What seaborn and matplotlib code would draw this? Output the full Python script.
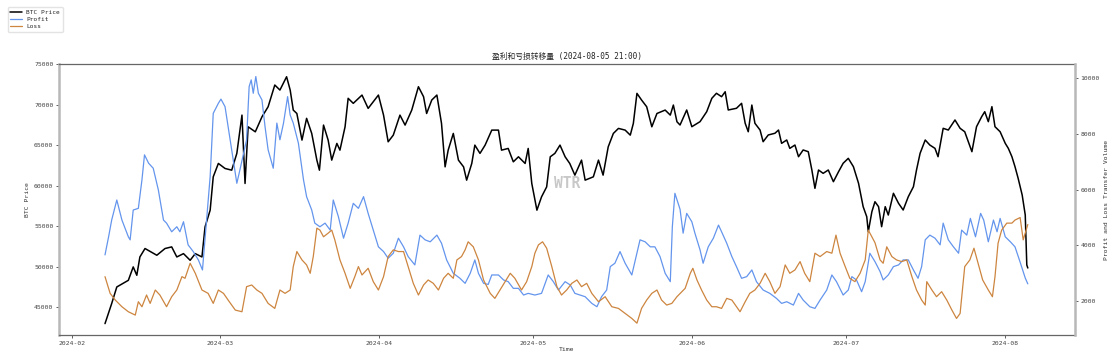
import numpy as np
import pandas as pd
import seaborn as sns
import matplotlib.pyplot as plt
import matplotlib.dates as mdates

# days counted from 2024-02-01
btc_days = [6.5, 7.8, 8.8, 11.05, 12.0, 12.7, 13.3, 14.3, 16.6, 18.2, 19.5, 20.5, 21.8, 23.1, 24.1,
            25.4, 26.0, 27.0, 27.6, 28.6, 29.9, 31.2, 32.2, 33.2, 33.8, 34.4, 35.8, 37.1, 38.3, 39.6,
            40.6, 41.9, 42.6, 43.2, 43.9, 44.9, 45.8, 46.8, 47.8, 48.3, 49.1, 50.0, 50.7, 51.7, 52.3,
            53.3, 53.9, 54.9, 56.6, 57.8, 58.8, 59.8, 60.8, 61.7, 62.7, 64.0, 65.0, 66.3, 67.6, 68.6,
            69.2, 70.2, 71.2, 72.1, 72.8, 73.4, 74.4, 75.4, 76.4, 77.0, 78.0, 78.6, 79.6, 80.6, 81.9,
            83.2, 83.8, 85.1, 86.1, 87.1, 88.4, 89.0, 89.7, 90.7, 91.6, 92.6, 93.3, 94.2, 95.2, 96.2,
            97.1, 98.1, 99.4, 100.1, 101.7, 102.7, 103.6, 104.6, 105.6, 106.6, 107.9, 108.9, 109.5,
            110.2, 111.1, 112.1, 113.1, 114.1, 115.7, 116.7, 117.3, 118.0, 118.6, 119.9, 120.9, 122.5,
            123.8, 124.8, 125.7, 126.7, 127.4, 128.0, 129.6, 130.6, 131.3, 131.9, 132.6, 133.2, 134.2,
            134.8, 135.8, 137.1, 137.8, 138.4, 139.4, 140.0, 141.0, 141.7, 142.6, 143.6, 144.3, 144.9,
            145.6, 146.5, 147.5, 148.5, 149.5, 150.4, 151.4, 152.4, 153.4, 154.3, 155.0, 155.3, 156.0,
            156.6, 157.3, 157.9, 158.6, 159.2, 160.2, 161.2, 162.1, 163.1, 164.1, 164.7, 165.4, 166.4,
            167.3, 168.3, 168.9, 169.9, 170.9, 172.2, 173.2, 174.1, 175.5, 176.4, 177.4, 178.0, 178.7,
            179.4, 180.0, 181.0, 182.0, 182.6, 183.3, 183.9, 184.5, 185.3, 185.9, 186.2, 186.4]
btc_price = [42990, 45460, 47510, 48330, 49980, 48950, 51210, 52250, 51420, 52250, 52450, 51210, 51620,
             50800, 51620, 51210, 54910, 56980, 61090, 62740, 62120, 61910, 63980, 68700, 60270, 67260,
             66640, 68490, 69730, 72410, 71790, 73430, 71790, 69320, 68900, 65620, 68300, 66440, 63150,
             61910, 67470, 65620, 63150, 65210, 64380, 67260, 70770, 70150, 71170, 69530, 70350, 71170,
             68700, 65410, 66230, 68700, 67470, 69320, 72200, 70970, 68900, 70560, 71170, 67680, 62320,
             64380, 66440, 63150, 62320, 60680, 62740, 65000, 63980, 65000, 66850, 66850, 64380, 64590,
             62940, 63560, 62740, 64590, 60270, 56980, 58620, 59850, 63560, 63980, 65000, 63560, 62740,
             61300, 63150, 60680, 61090, 63150, 61300, 64790, 66440, 67060, 66850, 66230, 67680, 71380,
             70560, 69730, 67260, 68900, 69320, 68700, 69940, 67880, 67480, 69330, 67270, 67890, 69120,
             70770, 71390, 70970, 71580, 69330, 69540, 70150, 67690, 66650, 69940, 67690, 66860, 65420,
             66250, 66460, 66860, 65220, 65630, 64600, 65010, 63570, 64400, 64190, 61930, 59670, 61930,
             61520, 61930, 60490, 61720, 62760, 63370, 62340, 60290, 57410, 56170, 54320, 56790, 58020,
             57410, 54940, 57410, 56380, 59060, 57820, 57000, 58640, 59870, 61930, 63990, 65630, 65010,
             64600, 63570, 67070, 66860, 68100, 67070, 66650, 64190, 67270, 68500, 69120, 67890, 69740,
             67270, 66650, 65220, 64600, 63570, 62340, 60940, 58850, 56380, 50220, 49850]

profit_days = [6.5, 7.2, 7.8, 8.8, 9.8, 11.05, 11.4, 12.0, 13.0, 13.7, 14.2, 15.0, 15.9, 16.9, 17.9,
               18.5, 19.5, 20.5, 21.1, 21.8, 22.7, 23.7, 24.7, 25.5, 26.3, 27.0, 27.6, 28.6, 29.1, 29.9,
               30.5, 31.5, 32.2, 32.8, 34.1, 34.6, 35.0, 35.4, 35.9, 36.4, 37.1, 37.7, 38.3, 39.3, 40.0,
               40.6, 41.3, 42.1, 42.6, 43.2, 44.2, 45.2, 45.8, 46.8, 47.4, 48.4, 49.4, 50.4, 51.0, 52.0,
               53.0, 53.9, 54.9, 55.9, 56.9, 57.8, 58.8, 59.8, 60.8, 61.7, 62.7, 63.7, 64.7, 65.6, 66.9,
               67.9, 68.9, 69.9, 71.2, 72.1, 73.1, 74.4, 75.7, 76.7, 77.7, 78.6, 79.3, 80.3, 81.2, 81.9,
               83.2, 84.2, 85.1, 86.1, 87.1, 88.1, 89.0, 90.3, 91.6, 92.9, 93.9, 94.9, 96.2, 97.2, 98.1,
               99.1, 100.1, 101.4, 102.4, 103.3, 104.3, 105.0, 105.9, 106.9, 107.9, 109.2, 110.2, 110.8,
               111.8, 112.8, 113.7, 114.7, 115.7, 116.7, 117.1, 117.6, 118.6, 119.2, 119.9, 120.9, 121.5,
               122.5, 123.1, 124.1, 125.1, 126.1, 126.7, 127.7, 128.7, 129.6, 130.6, 131.6, 132.6, 133.5,
               134.8, 136.1, 137.4, 138.4, 139.4, 140.7, 141.7, 142.6, 143.9, 144.9, 145.9, 147.2, 148.2,
               149.1, 150.4, 151.4, 152.1, 153.0, 154.0, 154.7, 155.6, 156.6, 157.6, 158.2, 159.2, 160.2,
               161.2, 162.1, 163.1, 164.1, 165.0, 165.7, 166.4, 167.3, 168.3, 169.3, 169.9, 170.9, 171.9,
               172.9, 173.5, 174.5, 175.2, 176.2, 177.2, 177.8, 178.7, 179.7, 180.4, 181.0, 182.0, 183.0,
               183.9, 184.9, 185.9, 186.4]
profit_vol = [3660, 4310, 4910, 5630, 4910, 4310, 4200, 5270, 5330, 6350, 7250, 6950, 6770, 5990, 4910,
              4800, 4490, 4670, 4490, 4850, 4020, 3780, 3480, 3120, 4910, 6470, 8740, 9100, 9250, 8980,
              8260, 7070, 6230, 6710, 7790, 9700, 9940, 9460, 10060, 9460, 9220, 8260, 7430, 6770, 8390,
              7790, 8390, 9340, 8680, 8390, 7670, 6350, 5750, 5270, 4800, 4670, 4800, 4550, 5630, 5030,
              4260, 4800, 5510, 5330, 5750, 5150, 4550, 3950, 3780, 3540, 3720, 4260, 3950, 3600, 3300,
              4370, 4200, 4130, 4370, 4080, 3480, 3000, 2820, 2640, 3000, 3480, 3000, 2640, 2600, 2940,
              2940, 2760, 2700, 2460, 2460, 2220, 2280, 2220, 2280, 2940, 2700, 2400, 2700, 2580, 2280,
              2220, 2160, 1920, 1800, 2160, 2400, 3240, 3360, 3780, 3360, 2940, 3720, 4200,
              4130, 3950, 3950, 3600, 3000, 2700, 4670, 5870, 5300, 4440, 5150, 4850, 4440,
              3840, 3360, 3950, 4260, 4730, 4490, 4080, 3600, 3240, 2820, 2880, 3120, 2700,
              2400, 2280, 2100, 1920, 1980, 1860, 2280, 2040, 1800, 1740, 2040, 2400, 2940,
              2700, 2220, 2400, 2880, 2760, 2340, 2700, 3720, 3420, 3060, 2760, 2940, 3240,
              3300, 3480, 3480, 3120, 2820, 3240, 4200, 4370, 4260, 4020, 4800, 4200, 3950,
              3720, 4550, 4370, 4970, 4310, 5150, 4910, 4130, 4910, 4490, 4970, 4310, 4130,
              3950, 3400, 2830, 2620]

loss_days = [6.5, 7.5, 8.5, 9.8, 11.05, 12.4, 13.0, 13.7, 14.6, 15.3, 16.3, 17.2, 18.5, 19.5, 20.5,
             21.5, 22.1, 23.1, 24.1, 25.4, 26.6, 27.6, 28.6, 29.6, 30.5, 31.9, 33.2, 34.1, 35.1, 36.1,
             37.1, 38.3, 39.6, 40.6, 41.6, 42.6, 43.2, 43.9, 44.9, 45.8, 46.5, 47.1, 47.8, 48.4, 49.1,
             50.0, 50.7, 51.3, 52.3, 53.3, 54.3, 55.2, 55.9, 56.6, 57.8, 58.8, 59.8, 60.8, 61.7, 62.7,
             63.7, 64.7, 65.6, 66.6, 67.6, 68.6, 69.5, 70.5, 71.5, 72.5, 73.4, 74.4, 75.1, 76.0, 76.7,
             77.3, 78.3, 79.3, 80.3, 81.6, 82.5, 83.5, 84.5, 85.5, 86.4, 87.7, 88.7, 89.7, 90.3, 91.0,
             91.8, 92.6, 93.6, 94.6, 95.5, 96.5, 97.5, 98.5, 99.4, 100.4, 101.4, 102.7, 104.0, 105.3,
             106.6, 107.9, 109.2, 110.2, 111.1, 112.1, 113.1, 114.1, 115.0, 116.0, 117.0, 118.0, 119.6,
             120.6, 121.1, 121.9, 122.8, 123.8, 124.8, 125.7, 126.7, 127.7, 128.7, 129.6, 130.3, 131.3,
             132.2, 133.2, 134.2, 135.2, 136.1, 137.1, 138.1, 139.1, 140.0, 141.0, 142.0, 142.9, 143.9,
             144.9, 145.9, 147.2, 148.2, 149.0, 149.8, 150.8, 151.7, 152.7, 153.7, 154.7, 155.3, 156.0,
             156.6, 157.6, 158.2, 158.9, 159.9, 160.8, 161.8, 162.8, 163.8, 164.7, 165.7, 166.4, 166.7,
             167.7, 168.6, 169.6, 170.6, 171.6, 172.5, 173.2, 174.1, 175.1, 175.9, 176.7, 177.6, 178.7,
             179.5, 180.0, 180.6, 181.3, 182.3, 183.3, 183.9, 184.9, 185.5, 186.0, 186.4]
loss_vol = [2880, 2280, 2040, 1800, 1620, 1500, 1980, 1800, 2220, 1920, 2400, 2220, 1800, 2160, 2400,
            2880, 2820, 3360, 3000, 2400, 2280, 1920, 2400, 2280, 2040, 1680, 1620, 2520, 2580, 2400,
            2280, 1920, 1740, 2400, 2280, 2400, 3240, 3780, 3480, 3300, 3000, 3600, 4620, 4550, 4310,
            4440, 4550, 4200, 3480, 3000, 2460, 2880, 3240, 2940, 3180, 2700, 2400, 2880, 3600, 3840,
            3780, 3780, 3240, 2640, 2220, 2580, 2760, 2640, 2400, 2820, 3000, 2820, 3480, 3600, 3840,
            4130, 3950, 3480, 2760, 2280, 2100, 2400, 2700, 3000, 2820, 2400, 2700, 3240, 3720, 4020,
            4130, 3900, 3240, 2520, 2220, 2400, 2640, 2760, 2520, 2640, 2280, 1980, 2160, 1800,
            1740, 1560, 1380, 1210, 1740, 2040, 2280, 2400, 2040, 1860, 1920, 2160, 2460,
            3000, 3180, 2760, 2400, 2040, 1800, 1800, 1740, 2100, 2040, 1800, 1620, 1980,
            2280, 2400, 2640, 3000, 2700, 2280, 2520, 3300, 3000, 3120, 3420, 3000, 2700,
            3720, 3600, 3780, 3720, 4370, 3720, 3240, 2820, 2700, 3000, 3480, 4550, 4310,
            4100, 3480, 3360, 3950, 3600, 3480, 3420, 3480, 2880, 2400, 2040, 1860, 2700,
            2400, 2160, 2340, 2040, 1680, 1380, 1560, 3240, 3480, 3900, 3360, 2760, 2400,
            2160, 2880, 4080, 4550, 4800, 4800, 4910, 5000, 4200, 4500, 4750]

base = pd.Timestamp("2024-02-01")
btc_t = base + pd.to_timedelta(btc_days, unit="D")
profit_t = base + pd.to_timedelta(profit_days, unit="D")
loss_t = base + pd.to_timedelta(loss_days, unit="D")

sns.set_style("white")
plt.rcParams['font.family'] = ['DejaVu Sans Mono', 'Noto Sans CJK SC']

fig = plt.figure(figsize=(11.14, 3.58), dpi=100)
ax = fig.add_axes([0.053, 0.0642, 0.912, 0.757])
ax2 = ax.twinx()

sns.lineplot(x=btc_t, y=btc_price, ax=ax, color="black", lw=1.1, label="BTC Price", legend=False)
sns.lineplot(x=profit_t, y=profit_vol, ax=ax2, color="#6495ED", lw=0.9, label="Profit", legend=False)
sns.lineplot(x=loss_t, y=loss_vol, ax=ax2, color="#CD853F", lw=0.9, label="Loss", legend=False)

ax.set_xlim(base - pd.Timedelta(days=2.46), base + pd.Timedelta(days=195.6))
ax.set_ylim(41585, 75000)
ax2.set_ylim(785, 10510)
ax.set_yticks(range(45000, 75001, 5000))
ax2.set_yticks(range(2000, 10001, 2000))
ax.xaxis.set_major_locator(mdates.MonthLocator())
ax.xaxis.set_major_formatter(mdates.DateFormatter('%Y-%m'))

# spines: grey thick sides, thin dark top/bottom
for a in (ax, ax2):
    for s in a.spines.values():
        s.set_visible(False)
ax.spines['left'].set_visible(True)
ax.spines['left'].set_color('#b8b8b8')
ax.spines['left'].set_linewidth(1.8)
for s in ('top', 'bottom'):
    ax.spines[s].set_visible(True)
    ax.spines[s].set_color('#666666')
    ax.spines[s].set_linewidth(0.9)
ax2.spines['right'].set_visible(True)
ax2.spines['right'].set_color('#b8b8b8')
ax2.spines['right'].set_linewidth(1.8)

for a in (ax, ax2):
    a.tick_params(axis='both', labelsize=4.6, length=2.5, width=0.6, pad=1.5,
                  colors='#444444', direction='out')
ax.tick_params(axis='x', bottom=True, top=False)
ax.tick_params(axis='y', left=True)
ax2.tick_params(axis='y', right=True)

ax.set_xlabel("Time", fontsize=4.6, color='#333333', labelpad=1)
ax.set_ylabel("BTC Price", fontsize=4.6, color='#333333', labelpad=3)
ax2.set_ylabel("Profit and Loss Transfer Volume", fontsize=4.6, color='#333333', labelpad=3)
ax.set_title("盈利和亏损转移量 (2024-08-05 21:00)", fontsize=5.6, color='#222222', pad=4)

ax.text(0.5, 0.56, "WTR", transform=ax.transAxes, fontsize=10.5, color='#c8c8c8',
        ha='center', va='center', fontweight='bold', zorder=0)

h1, l1 = ax.get_legend_handles_labels()
h2, l2 = ax2.get_legend_handles_labels()
fig.legend(h1 + h2, l1 + l2, loc='upper left', bbox_to_anchor=(0.004, 0.99),
           fontsize=4.4, frameon=True, edgecolor='#dddddd', fancybox=True,
           handlelength=2.0, borderpad=0.45, labelspacing=0.35, handletextpad=0.6)

fig.savefig("out.png", dpi=100)
